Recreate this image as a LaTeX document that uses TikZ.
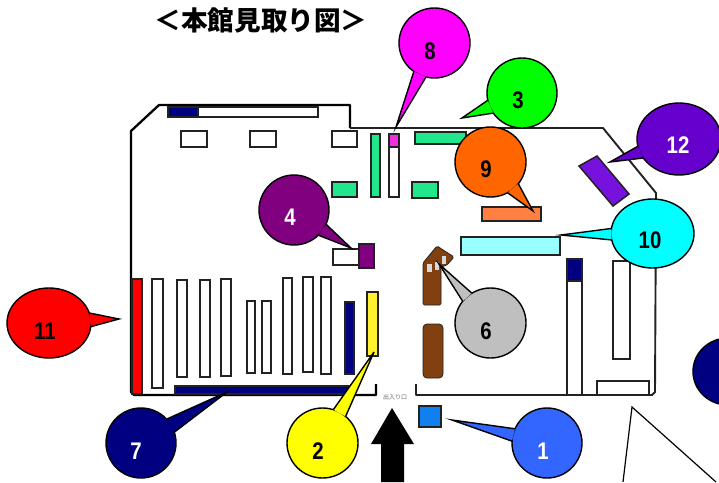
\documentclass[tikz,border=0pt]{standalone}
\usepackage{fontspec}
\usetikzlibrary{shapes.geometric}
\setmainfont{Liberation Sans}
\newfontfamily\cjk{Noto Sans CJK JP}
\newfontfamily\numf[FakeStretch=0.85]{Liberation Sans}
\definecolor{dk}{HTML}{222222}
\definecolor{navy}{HTML}{000080}
\definecolor{mint}{HTML}{22E68C}
\definecolor{brn}{HTML}{804010}
\definecolor{cMag}{HTML}{FF00FF}
\definecolor{cMagB}{HTML}{F030E0}
\definecolor{cCyan}{HTML}{00FFFF}
\definecolor{cYel}{HTML}{FFFF00}
\definecolor{cYelB}{HTML}{FFF030}
\definecolor{cGrn}{HTML}{00FF00}
\definecolor{cRed}{HTML}{FF0000}
\definecolor{cOra}{HTML}{FF6600}
\definecolor{cOraB}{HTML}{FF8040}
\definecolor{cPur}{HTML}{800080}
\definecolor{cVio}{HTML}{6600CC}
\definecolor{cVioB}{HTML}{7711DD}
\definecolor{cBlu}{HTML}{3366FF}
\definecolor{cBluB}{HTML}{1080F0}
\definecolor{cGry}{HTML}{BFBFBF}
\definecolor{cCyaB}{HTML}{99FFFF}
\tikzset{
  x=1pt,y=-1pt,
  wall/.style={draw=black,line width=2.3pt,line join=round},
  wallthin/.style={draw=dk,line width=1.9pt,line join=round},
  box/.style={draw=dk,line width=1.5pt,fill=white},
  bub/.style={draw=black,line width=1.4pt,line join=miter},
  bubble/.style={ellipse,draw=black,line width=1.4pt,inner sep=0pt,outer sep=0pt},
  num/.style={font=\numf\bfseries\fontsize{24}{24}\selectfont,inner sep=0pt},
}
% \callout{name}{cx,cy}{rx}{ry}{fill}{tip x,y}{angle a}{angle b}
\newcommand{\callout}[8]{%
  \node[bubble,fill=#5,minimum width=#3*2pt,minimum height=#4*2pt] (#1) at (#2) {};
  \coordinate (#1tip) at (#6);
  \draw[bub,fill=#5] (#1.#7) -- (#1tip) -- (#1.#8);
}
\newcommand{\rc}[3]{\draw[box,#3] (#1) rectangle (#2);}
\begin{document}
\begin{tikzpicture}
\useasboundingbox (0,0) rectangle (719,482);
\fill[white] (0,0) rectangle (719,482);
\node[font=\cjk\bfseries\fontsize{26.6}{27}\selectfont,inner sep=0pt] (title) at (261,20) {＜本館見取り図＞};
% walls
\draw[wall] (376,384) -- (376,395) -- (134,395) -- (131,392) -- (131,131) -- (159,105) -- (350,105) -- (350,128);
\draw[wallthin] (350,128) -- (603,128) -- (656,193) -- (655,392) -- (652,395) -- (416,395) -- (416,384);
% top-left room
\rc{168,107}{318,117}{}
\rc{168,107}{198,117}{fill=navy}
\rc{181,131}{207,147}{}
\rc{250,131}{276,147}{}
\rc{332,131}{357,147}{}
% greens
\rc{371,134}{380,197}{fill=mint}
\rc{389,134}{399,197}{}
\rc{389,134}{399,147}{fill=cMagB}
\rc{332,182}{357,197}{fill=mint}
\rc{412,182}{438,198}{fill=mint}
\rc{415,132}{466,144}{fill=mint}
% 4 area
\rc{333,249}{359,265}{}
\rc{359,244}{374,268}{fill=cPur}
% shelves left
\rc{132,279}{142,394}{fill=cRed}
\rc{152,279}{163,388}{}
\rc{177,280}{187,377}{}
\rc{200,280}{210,377}{}
\rc{221,279}{231,376}{}
\rc{247,301}{255,373}{}
\rc{262,301}{271,373}{}
\rc{283,278}{292,374}{}
\rc{303,277}{313,372}{}
\rc{321,277}{331,374}{}
\rc{345,302}{354,374}{fill=navy}
\rc{367,292}{378,356}{fill=cYelB}
\rc{175,386}{353,394}{fill=navy}
% entrance
\node[font=\cjk\fontsize{6}{6}\selectfont,text=black!60,inner sep=0pt] (door) at (395,397) {出入り口};
\draw[fill=black,draw=none] (392,408) -- (414,444) -- (404,444) -- (404,482) -- (381,482) -- (381,444) -- (371,444) -- cycle;
\rc{419,406}{441,427}{fill=cBluB}
% brown
\draw[draw=dk,line width=0.8pt,fill=brn,rounded corners=1.5pt] (437,246) -- (454,257) -- (447,265) -- (441,267) -- (441,305) -- (423,305) -- (423,263) -- cycle;
\draw[draw=dk,line width=0.8pt,fill=brn,rounded corners=4pt] (423,324) rectangle (443,378);
\fill[black!15] (427,264) rectangle (432,272);
\fill[black!15] (435,262) rectangle (439,270);
\fill[black!15] (442,256) rectangle (446,264);
% right side
\rc{482,207}{541,221}{fill=cOraB}
\rc{461,237}{560,255}{fill=cCyaB}
\draw[box,fill=cVioB] (579,166) -- (597,156) -- (629,194) -- (613,206) -- cycle;
\rc{567,259}{582,395}{}
\rc{567,259}{582,281}{fill=navy}
\rc{613,261}{630,359}{}
\rc{597,381}{649,395}{}
% callouts
\callout{bThree}{522,93}{35}{35}{cGrn}{462,118}{192}{215}
\callout{bEight}{434.5,43}{35.5}{35}{cMag}{396,127}{234}{256}
\callout{bNine}{490.5,162}{35.5}{35}{cOra}{533,211}{-38}{-61}
\callout{bFour}{294,210}{35}{35}{cPur}{351,248}{-24}{-46}
\callout{bTen}{652.5,233.5}{41.5}{34.5}{cCyan}{561,235}{173}{189}
\callout{bTwelve}{679,139}{42}{36}{cVio}{610,162}{190}{208}
\callout{bSix}{490.5,323}{35.5}{35}{cGry}{439,264}{122}{142}
\callout{bEleven}{49,323}{42}{35}{cRed}{119,319}{14}{-5}
\callout{bSeven}{141,443}{35}{35}{navy}{227,392}{43}{18}
\callout{bTwo}{322.5,443}{35.5}{35}{cYel}{374,352}{72}{49}
\callout{bOne}{547,443}{35}{35}{cBlu}{452,420}{156}{177}
\node[bubble,fill=navy,minimum width=70pt,minimum height=67pt] (bThirteen) at (728,371.5) {};
% numbers
\node[num,text=white] (nOne) at (543,451) {1};
\node[num] (nTwo) at (318,451) {2};
\node[num] (nThree) at (518,100) {3};
\node[num,text=white] (nFour) at (290,217) {4};
\node[num] (nSix) at (486,331) {6};
\node[num,text=white] (nSeven) at (136,451) {7};
\node[num] (nEight) at (430,51) {8};
\node[num] (nNine) at (486,169) {9};
\node[num] (nTen) at (650,240) {10};
\node[num] (nEleven) at (45,331) {11};
\node[num,text=white] (nTwelve) at (678,145) {12};
% free lines bottom right
\coordinate (apex) at (632,407);
\coordinate (legA) at (623,482);
\coordinate (legB) at (716,482);
\draw[black,line width=1.2pt] (legA) -- (apex) -- (legB);
\end{tikzpicture}
\end{document}
